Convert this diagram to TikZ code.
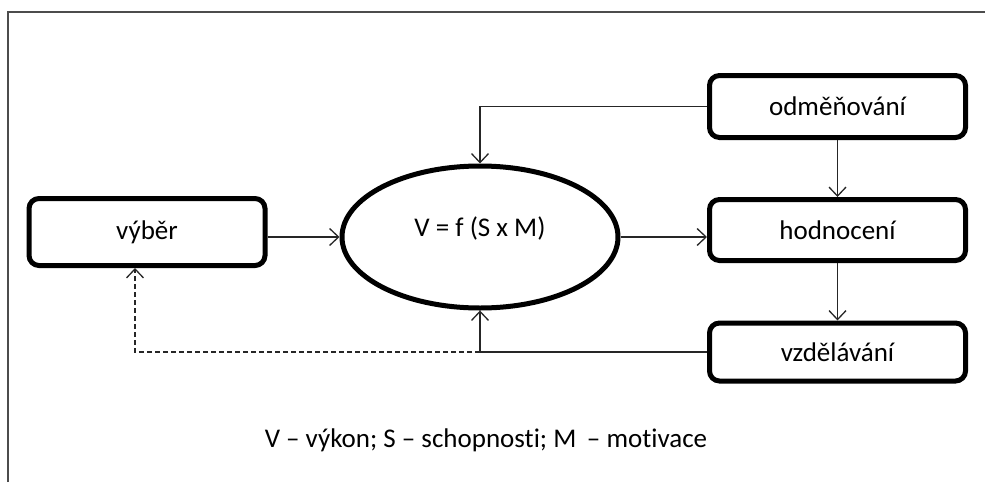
\documentclass[tikz,border=0pt]{standalone}
\usepackage{fontspec}
\setmainfont{Carlito}[Ligatures=NoCommon]
\usetikzlibrary{arrows.meta,shapes.geometric}
\begin{document}
\begin{tikzpicture}[x=1pt,y=-1pt,
  font=\fontsize{27}{30}\selectfont,
  stagebox/.style={draw, line width=5pt, rounded corners=10pt, align=center, inner sep=0pt},
  flow/.style={draw=black!85, line width=1.3pt, -{Straight Barb[length=9pt,width=17pt,line width=1.3pt]}},
  backflow/.style={flow, dashed, dash pattern=on 5pt off 3pt}]
  % canvas and outer frame
  \useasboundingbox (0,0) rectangle (985,482);
  \draw[line width=2pt, black!70] (8,482) -- (8,12) -- (985,12);

  % nodes
  \node[stagebox, minimum width=236pt, minimum height=67pt] (vyber) at (147,232) {výběr};
  \node[draw, ellipse, line width=5pt, minimum width=276pt, minimum height=142pt, inner sep=0pt] (fx) at (480,237) {};
  \node (fxt) at ([yshift=9pt]fx.center) {V = f (S x M)};
  \node[stagebox, minimum width=256pt, minimum height=62pt] (odm) at (837.5,106.5) {odměňování};
  \node[stagebox, minimum width=256pt, minimum height=61pt] (hod) at (837.5,230) {hodnocení};
  \node[stagebox, minimum width=256pt, minimum height=58pt] (vzd) at (837.5,352) {vzdělávání};
  \node (legend) at (486,440) {V – výkon; S – schopnosti; M \,– motivace};

  % connectors
  \draw[flow] (vyber.east |- fx.west) -- (fx.west);
  \draw[flow] (fx.east) -- (fx.east -| hod.west);
  \draw[flow] (odm.west) -| (fx.north);
  \draw[flow] (odm.south) -- (hod.north);
  \draw[flow] (hod.south) -- (vzd.north);
  \coordinate (join) at (fx.south |- vzd.west);
  \draw[flow] (vzd.west) -- (join) -- (fx.south);
  \draw[backflow] (join) -| ([xshift=-12pt]vyber.south);
\end{tikzpicture}
\end{document}
